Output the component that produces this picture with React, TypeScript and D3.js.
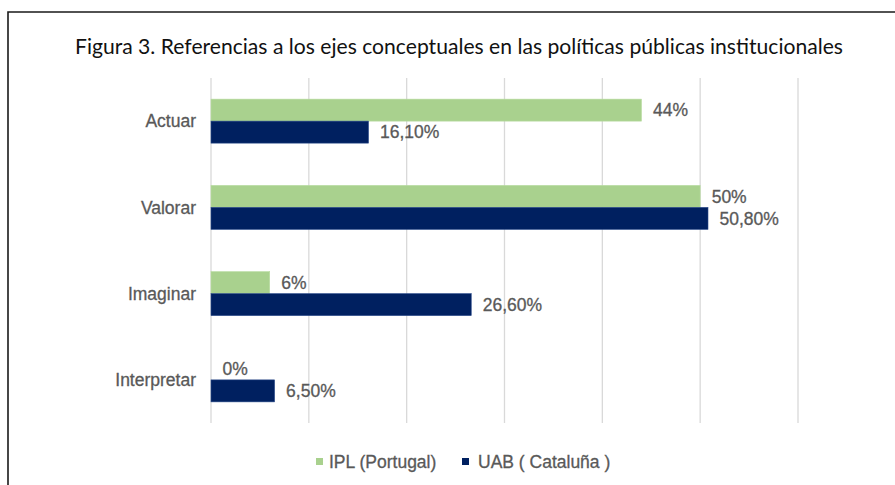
import React from "react";
import * as d3 from "d3";

const categories = ["Actuar", "Valorar", "Imaginar", "Interpretar"];
const seriesNames = ["IPL (Portugal)", "UAB ( Cataluña )"];
const iplValues = [44, 50, 6, 0];
const uabValues = [16.1, 50.8, 26.6, 6.5];
const iplLabels = ["44%", "50%", "6%", "0%"];
const uabLabels = ["16,10%", "50,80%", "26,60%", "6,50%"];
const xTicks = [0, 10, 20, 30, 40, 50, 60];
const title = "Figura 3. Referencias a los ejes conceptuales en las políticas públicas institucionales";

const W = 895;
const H = 485;
const GREEN = "#A9D18E";
const NAVY = "#002060";
const TEXT = "#595959";
const FONT = "'Liberation Sans', Arial, sans-serif";

export default function App() {
  const x = d3.scaleLinear().domain([0, 60]).range([211, 798]);
  const y = d3.scaleBand<string>().domain(categories).range([78, 423]).paddingInner(0).paddingOuter(0);
  const barH = 22;
  const series = [
    { name: seriesNames[0], values: iplValues, labels: iplLabels, color: GREEN, offset: -barH },
    { name: seriesNames[1], values: uabValues, labels: uabLabels, color: NAVY, offset: 0 },
  ];
  const fs = 17.5;
  const textStroke = { stroke: TEXT, strokeWidth: 0.3 };

  return (
    <svg
      width={W}
      height={H}
      style={{ position: "absolute", left: 0, top: 0, display: "block", background: "#fff" }}
    >
      <rect x={0} y={0} width={W} height={H} fill="#fff" />
      <path d={`M8,${H} L8,12 L${W},12`} fill="none" stroke="#1a1a1a" strokeWidth={1.6} />
      <text
        x={75}
        y={54}
        fontFamily="'Lato', 'Open Sans', sans-serif"
        fontSize={21}
        fill="#111"
        textLength={768}
        lengthAdjust="spacingAndGlyphs"
      >
        {title}
      </text>

      {xTicks.map((t) => (
        <line key={t} x1={x(t)} x2={x(t)} y1={78} y2={423} stroke="#D9D9D9" strokeWidth={1.3} />
      ))}

      {categories.map((c) => {
        const cy = (y(c) as number) + y.bandwidth() / 2;
        return (
          <text
            key={c}
            x={196}
            y={cy}
            dy="0.35em"
            textAnchor="end"
            fontFamily={FONT}
            fontSize={fs}
            fill={TEXT}
            {...textStroke}
          >
            {c}
          </text>
        );
      })}

      {series.map((s) =>
        categories.map((c, i) => {
          const cy = (y(c) as number) + y.bandwidth() / 2 + s.offset;
          const w = x(s.values[i]) - x(0);
          return (
            <g key={s.name + c}>
              {w > 0 && (
                <rect
                  x={x(0)}
                  y={cy}
                  width={w}
                  height={barH}
                  fill={s.color}
                  stroke={s.color === NAVY ? "#2a4a8a" : "#b8dca0"}
                  strokeWidth={0.6}
                />
              )}
              <text
                x={x(s.values[i]) + 11.5}
                y={cy + barH / 2}
                dy="0.35em"
                fontFamily={FONT}
                fontSize={fs}
                fill={TEXT}
                {...textStroke}
              >
                {s.labels[i]}
              </text>
            </g>
          );
        })
      )}

      <g>
        <rect x={316} y={458} width={7} height={7} fill={GREEN} />
        <text x={329} y={462} dy="0.35em" fontFamily={FONT} fontSize={fs} fill={TEXT} {...textStroke}>
          {seriesNames[0]}
        </text>
        <rect x={462} y={458} width={7} height={7} fill={NAVY} />
        <text x={478} y={462} dy="0.35em" fontFamily={FONT} fontSize={fs} fill={TEXT} {...textStroke}>
          {seriesNames[1]}
        </text>
      </g>
    </svg>
  );
}
